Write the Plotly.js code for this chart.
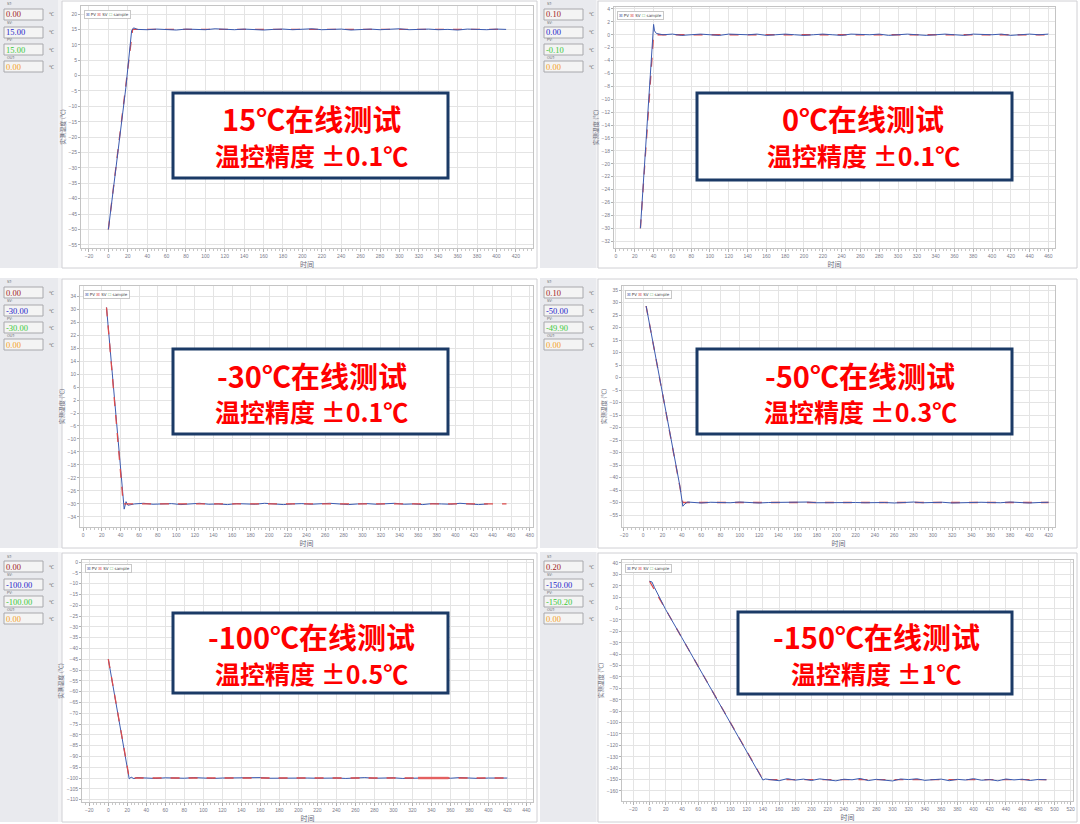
<!DOCTYPE html>
<html><head><meta charset="utf-8">
<script src="https://cdn.plot.ly/plotly-3.0.1.min.js"></script>
<style>html,body{margin:0;padding:0;background:#fff}#chart{width:1080px;height:824px}</style>
</head><body><div id="chart"></div>
<script>
// ---------------- data ----------------
const p1Time = [0, 6, 12, 18, 24, 26, 30, 40, 50, 60, 70, 80, 90, 100, 110, 120, 130, 140, 150, 160, 170, 180, 190, 200, 210, 220, 230, 240, 250, 260, 270, 280, 290, 300, 310, 320, 330, 340, 350, 360, 370, 380, 390, 400, 410];
const p1PV = [-50, -35, -19.5, -4, 14.6, 15.5, 15.0, 14.9, 15.1, 15.0, 14.8, 15.1, 15.0, 14.9, 15.2, 15.0, 14.9, 15.1, 15.0, 14.8, 15.0, 15.1, 14.9, 15.0, 15.2, 14.9, 15.0, 15.1, 14.8, 15.0, 15.1, 14.9, 15.0, 15.2, 14.9, 15.0, 15.1, 14.9, 15.0, 14.8, 15.1, 15.0, 14.9, 15.1, 15.0];
const p1SVTime = [0, 25, 410];
const p1SV = [-50, 15, 15];

const p2Time = [26, 30, 34, 38, 40, 41, 43, 50, 60, 70, 80, 90, 100, 110, 120, 130, 140, 150, 160, 170, 180, 190, 200, 210, 220, 230, 240, 250, 260, 270, 280, 290, 300, 310, 320, 330, 340, 350, 360, 370, 380, 390, 400, 410, 420, 430, 440, 450, 460];
const p2PV = [-30, -21, -12, -3, 1.6, 0.6, 0.2, 0.0, 0.1, -0.1, 0.0, 0.1, 0.0, -0.1, 0.1, 0.0, 0.0, 0.1, -0.1, 0.0, 0.1, 0.0, -0.1, 0.0, 0.1, 0.0, -0.1, 0.1, 0.0, 0.0, 0.1, -0.1, 0.0, 0.1, 0.0, -0.1, 0.0, 0.1, 0.0, -0.1, 0.1, 0.0, 0.0, 0.1, -0.1, 0.0, 0.1, 0.0, 0.1];
const p2SVTime = [26, 40, 460];
const p2SV = [-30, 0, 0];

const p3Time = [25, 30, 35, 40, 43, 44, 46, 48, 55, 65, 75, 85, 95, 105, 115, 125, 135, 145, 155, 165, 175, 185, 195, 205, 215, 225, 235, 245, 255, 265, 275, 285, 295, 305, 315, 325, 335, 345, 355, 365, 375, 385, 395, 405, 415, 425, 435];
const p3PV = [30.5, 13.5, -3.5, -20.5, -30.2, -31.6, -29.3, -30.4, -30.0, -29.8, -30.1, -30.0, -29.9, -30.2, -30.0, -29.8, -30.1, -30.0, -30.2, -29.9, -30.0, -30.1, -29.8, -30.0, -30.2, -30.0, -29.9, -30.1, -30.0, -29.8, -30.0, -30.2, -30.0, -29.9, -30.1, -30.0, -29.8, -30.1, -30.0, -30.2, -29.9, -30.0, -30.1, -29.8, -30.0, -30.2, -30.0];
const p3SVTime = [25, 43, 455];
const p3SV = [30.5, -30, -30];

const p4Time = [3, 10, 20, 30, 38, 41, 43, 46, 50, 60, 70, 80, 90, 100, 110, 120, 130, 140, 150, 160, 170, 180, 190, 200, 210, 220, 230, 240, 250, 260, 270, 280, 290, 300, 310, 320, 330, 340, 350, 360, 370, 380, 390, 400, 410, 420];
const p4PV = [28.6, 14, -6.5, -27, -43.5, -51.5, -50.6, -49.8, -50.0, -50.2, -49.9, -50.0, -50.1, -49.8, -50.0, -50.2, -50.0, -49.9, -50.1, -50.0, -49.8, -50.1, -50.0, -50.2, -49.9, -50.0, -50.1, -49.9, -50.0, -50.2, -50.0, -49.8, -50.1, -50.0, -49.9, -50.2, -50.0, -50.1, -49.9, -50.0, -50.1, -49.8, -50.0, -50.2, -50.0, -49.9];
const p4SVTime = [3, 41, 420];
const p4SV = [28.6, -50, -50];

const p5Time = [0, 5, 10, 15, 20, 22, 24, 27, 30, 40, 50, 60, 70, 80, 90, 100, 110, 120, 130, 140, 150, 160, 170, 180, 190, 200, 210, 220, 230, 240, 250, 260, 270, 280, 290, 300, 310, 320, 330, 340, 350, 360, 370, 380, 390, 400, 410, 420];
const p5PV = [-45, -57.5, -70, -82.5, -95, -100.4, -99.6, -100.3, -99.8, -100.0, -100.2, -99.9, -100.0, -100.1, -99.8, -100.0, -100.2, -100.0, -99.9, -100.1, -100.0, -99.8, -100.1, -100.0, -100.2, -99.9, -100.0, -100.1, -99.9, -100.0, -100.2, -100.0, -99.8, -100.1, -100.0, -99.9, -100.2, -100.0, -100.1, -99.9, -100.0, -100.1, -99.8, -100.0, -100.2, -100.0, -99.9, -100.0];
const p5SVTime = [0, 22, 420];
const p5SV = [-45, -100, -100];
const p5BandTime = [326, 358];
const p5Band = [-100, -100];

const p6Time = [0, 3, 6, 20, 40, 60, 80, 100, 120, 138, 140, 143, 150, 160, 170, 180, 190, 200, 210, 220, 230, 240, 250, 260, 270, 280, 290, 300, 310, 320, 330, 340, 350, 360, 370, 380, 390, 400, 410, 420, 430, 440, 450, 460, 470, 480, 490];
const p6PV = [24, 23.3, 18.6, -1, -25.7, -50.6, -75.4, -100.3, -125.1, -147.5, -150.4, -149.5, -150.0, -151.0, -149.2, -150.5, -149.6, -150.8, -149.4, -150.3, -151.1, -149.7, -150.2, -149.0, -150.9, -149.8, -150.4, -151.2, -149.5, -150.0, -149.3, -150.7, -150.1, -149.6, -151.0, -149.8, -150.4, -149.2, -150.6, -150.0, -151.1, -149.5, -150.3, -149.7, -150.8, -149.9, -150.2];
const p6SVTime = [0, 140, 490];
const p6SV = [24, -150, -150];

const panelTitles = ['15℃在线测试', '0℃在线测试', '-30℃在线测试', '-50℃在线测试', '-100℃在线测试', '-150℃在线测试'];
const panelAccuracy = ['温控精度 ±0.1℃', '温控精度 ±0.1℃', '温控精度 ±0.1℃', '温控精度 ±0.3℃', '温控精度 ±0.5℃', '温控精度 ±1℃'];
const sideLabels = ['ST:', 'SV:', 'PV:', 'OUT:'];
const sideValues = [
  ['0.00', '15.00', '15.00', '0.00'],
  ['0.10', '0.00', '-0.10', '0.00'],
  ['0.00', '-30.00', '-30.00', '0.00'],
  ['0.10', '-50.00', '-49.90', '0.00'],
  ['0.00', '-100.00', '-100.00', '0.00'],
  ['0.20', '-150.00', '-150.20', '0.00']
];
const xTitle = '时间';
const yTitle = '实测温度 (℃)';

const series = [
  {t: p1Time, pv: p1PV, st: p1SVTime, sv: p1SV},
  {t: p2Time, pv: p2PV, st: p2SVTime, sv: p2SV},
  {t: p3Time, pv: p3PV, st: p3SVTime, sv: p3SV},
  {t: p4Time, pv: p4PV, st: p4SVTime, sv: p4SV},
  {t: p5Time, pv: p5PV, st: p5SVTime, sv: p5SV, bt: p5BandTime, b: p5Band},
  {t: p6Time, pv: p6PV, st: p6SVTime, sv: p6SV}
];

// ---------------- layout geometry (pixels) ----------------
const W = 1080, H = 824;
const X = p => p / W, Y = p => 1 - p / H;
const geo = [
  {side:[0,0,58,268], win:[62,1,537,268], plot:[81,6,533,248], xr:[-28.2,437.7], yr:[-56,22.6], dy:5, y0:0, box:[173,93,448,178], t1:118, t2:155, tx:311, svTop:false},
  {side:[540,0,596,268], win:[598,1,1077,268], plot:[614,7,1055,248], xr:[-2.1,467], yr:[-33.05,4.3], dy:2, y0:0, box:[697,93,1012,180], t1:118, t2:155, tx:863, svTop:false},
  {side:[0,278,58,548], win:[62,279,537,548], plot:[80,286,533,527], xr:[-3.5,483.5], yr:[-37.1,37.1], dy:4, y0:-30, box:[173,349,448,434], t1:375, t2:411, tx:312, svTop:true},
  {side:[540,278,596,548], win:[598,279,1077,548], plot:[622,286,1055,527], xr:[-22,426.6], yr:[-59.8,36.6], dy:5, y0:0, box:[697,349,1012,434], t1:375, t2:411, tx:860, svTop:false},
  {side:[0,552,58,822], win:[62,553,537,822], plot:[82,560,533,802], xr:[-27.7,447], yr:[-111.1,0.93], dy:5, y0:0, box:[173,613,448,693], t1:636, t2:673, tx:311, svTop:true},
  {side:[540,552,596,822], win:[598,553,1077,822], plot:[622,560,1073,801], xr:[-34,522.8], yr:[-168.8,42.6], dy:10, y0:0, box:[738,612,1012,694], t1:636, t2:673, tx:876, svTop:false}
];

const PVC = '#3c5bb0', SVC = '#dc4a4a';
const sideColors = ['#a01c1c', '#1c1cc8', '#3ac83a', '#f4a11e'];

const traces = [], shapes = [], annotations = [];
const layout = {
  width: W, height: H, margin: {l:0, r:0, t:0, b:0},
  paper_bgcolor: '#ffffff', plot_bgcolor: 'rgba(0,0,0,0)',
  showlegend: false, font: {family: '"Liberation Sans", Arial, sans-serif'}
};

geo.forEach((g, i) => {
  const s = i === 0 ? '' : String(i + 1);
  const xa = 'x' + s, ya = 'y' + s;
  const d = series[i];
  const sv = {x: d.st, y: d.sv, xaxis: xa, yaxis: ya, mode: 'lines', line: {color: SVC, width: 1.3, dash: 'dash'}, hoverinfo: 'skip'};
  const pv = {x: d.t, y: d.pv, xaxis: xa, yaxis: ya, mode: 'lines', line: {color: PVC, width: 1}, hoverinfo: 'skip'};
  if (g.svTop) { traces.push(pv, sv); } else { traces.push(sv, pv); }
  if (d.bt) traces.push({x: d.bt, y: d.b, xaxis: xa, yaxis: ya, mode: 'lines', line: {color: '#e46060', width: 2.4}, hoverinfo: 'skip'});

  const [pl, pt, pr, pb] = g.plot;
  layout['xaxis' + s] = {
    domain: [X(pl), X(pr)], range: g.xr, anchor: ya, dtick: 20, tick0: 0,
    showgrid: true, gridcolor: '#e4e4e4', gridwidth: 1, zeroline: false,
    showline: true, mirror: true, linecolor: '#c4c4c4', linewidth: 1,
    ticks: 'outside', ticklen: 3, tickcolor: '#b0b0b0',
    minor: {ticks: 'outside', ticklen: 2, tickcolor: '#c8c8c8', dtick: 4, showgrid: false},
    tickfont: {size: 5, color: '#7a7a8a'},
    title: {text: xTitle, font: {size: 7, color: '#6a6a7a', family: '"Noto Sans CJK SC", sans-serif'}, standoff: 1}
  };
  layout['yaxis' + s] = {
    domain: [Y(pb), Y(pt)], range: g.yr, anchor: xa, dtick: g.dy, tick0: g.y0,
    showgrid: true, gridcolor: '#e4e4e4', gridwidth: 1, zeroline: false,
    showline: true, mirror: true, linecolor: '#c4c4c4', linewidth: 1,
    ticks: 'outside', ticklen: 2, tickcolor: '#b0b0b0',
    tickfont: {size: 5, color: '#7a7a8a'},
    title: {text: yTitle, font: {size: 6, color: '#6a6a7a', family: '"Noto Sans CJK SC", sans-serif'}, standoff: 2}
  };

  // panel background pieces
  const [sx0, sy0, sx1, sy1] = g.side;
  shapes.push({type: 'rect', xref: 'paper', yref: 'paper', layer: 'below', x0: X(sx0), x1: X(sx1), y0: Y(sy1), y1: Y(sy0), fillcolor: '#e9eaee', line: {width: 0}});
  const [wx0, wy0, wx1, wy1] = g.win;
  shapes.push({type: 'rect', xref: 'paper', yref: 'paper', layer: 'below', x0: X(sx1), x1: X(wx0), y0: Y(sy1), y1: Y(sy0), fillcolor: '#f3f3f5', line: {width: 0}});
  shapes.push({type: 'rect', xref: 'paper', yref: 'paper', layer: 'below', x0: X(wx0), x1: X(wx1), y0: Y(wy1), y1: Y(wy0), fillcolor: '#ffffff', line: {color: '#d0d0d4', width: 1}});

  // sidebar fields
  const boxTop = [9, 27, 44, 61], boxBot = [20, 38, 55, 72], labMid = [4.5, 23, 40.5, 57.5];
  for (let k = 0; k < 4; k++) {
    shapes.push({type: 'rect', xref: 'paper', yref: 'paper', layer: 'below', x0: X(sx0 + 4), x1: X(sx0 + 43), y0: Y(sy0 + boxBot[k]), y1: Y(sy0 + boxTop[k]), fillcolor: '#f4f4f4', line: {color: '#a8a8ac', width: 1}});
    annotations.push({xref: 'paper', yref: 'paper', x: X(sx0 + 6), y: Y(sy0 + labMid[k]), xanchor: 'left', yanchor: 'middle', showarrow: false, text: sideLabels[k], font: {size: 3.5, color: '#666'}, borderpad: 0});
    annotations.push({xref: 'paper', yref: 'paper', x: X(sx0 + 5), y: Y(sy0 + (boxTop[k] + boxBot[k]) / 2), xanchor: 'left', yanchor: 'middle', showarrow: false, text: sideValues[i][k], font: {size: 8.5, color: sideColors[k], family: '"Liberation Serif", "Times New Roman", serif'}, borderpad: 0});
    annotations.push({xref: 'paper', yref: 'paper', x: X(sx0 + 48), y: Y(sy0 + (boxTop[k] + boxBot[k]) / 2), xanchor: 'left', yanchor: 'middle', showarrow: false, text: '℃', font: {size: 5, color: '#555'}, borderpad: 0});
  }

  // mini legend
  annotations.push({xref: 'paper', yref: 'paper', x: X(pl + 3), y: Y(pt + 4), xanchor: 'left', yanchor: 'top', showarrow: false,
    text: '<span style="color:' + PVC + '">☒</span> PV <span style="color:' + SVC + '">☒</span> SV <span style="color:#7cc47c">☐</span> sample',
    font: {size: 4, color: '#444', family: '"DejaVu Sans", sans-serif'}, bgcolor: '#ffffff', bordercolor: '#c8c8c8', borderwidth: 1, borderpad: 1});

  // caption box
  const [bx0, by0, bx1, by1] = g.box;
  shapes.push({type: 'rect', xref: 'paper', yref: 'paper', layer: 'above', x0: X(bx0), x1: X(bx1), y0: Y(by1), y1: Y(by0), fillcolor: '#ffffff', line: {color: '#1b3a66', width: 3}});
  annotations.push({xref: 'paper', yref: 'paper', x: X(g.tx), y: Y(g.t1), xanchor: 'center', yanchor: 'middle', showarrow: false, text: '<b>' + panelTitles[i] + '</b>', font: {size: 29, color: '#ff0000', family: '"Noto Sans CJK SC", sans-serif'}, borderpad: 0});
  annotations.push({xref: 'paper', yref: 'paper', x: X(g.tx), y: Y(g.t2), xanchor: 'center', yanchor: 'middle', showarrow: false, text: '<b>' + panelAccuracy[i] + '</b>', font: {size: 25, color: '#ff0000', family: '"Noto Sans CJK SC", sans-serif'}, borderpad: 0});
});

layout.shapes = shapes;
layout.annotations = annotations;
Plotly.newPlot('chart', traces, layout, {staticPlot: true, displayModeBar: false});
</script>
</body></html>
